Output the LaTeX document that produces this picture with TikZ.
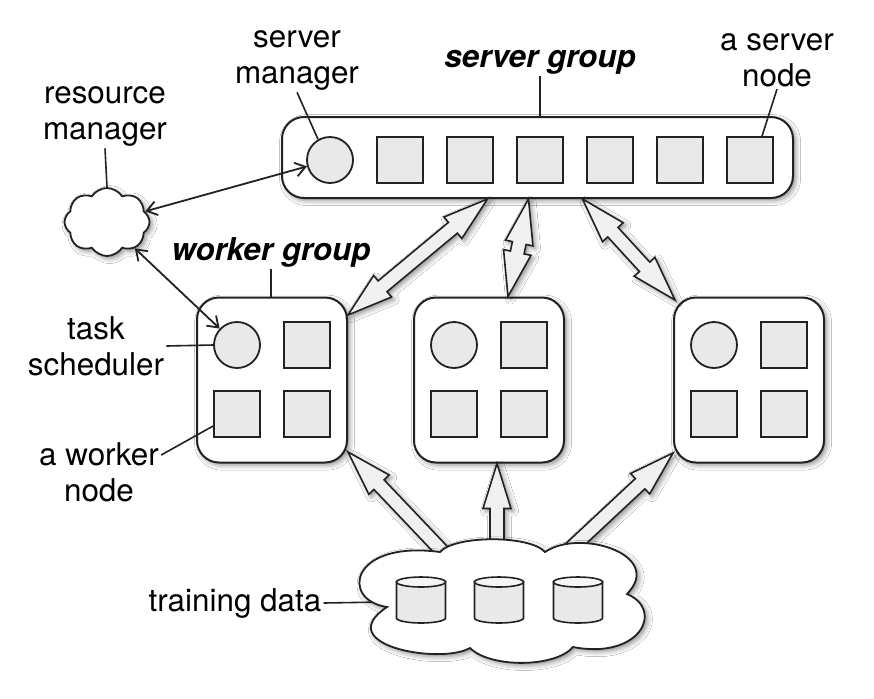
\documentclass[tikz,border=0pt]{standalone}
\usepackage{fontspec}
\setmainfont{TeX Gyre Heros}
\usetikzlibrary{shapes.symbols,shapes.geometric,calc,arrows.meta,shadows.blur}
\definecolor{boxfill}{HTML}{E9E9E9}
\definecolor{ink}{HTML}{222222}
\tikzset{
  txt/.style={font=\fontsize{15.7}{18}\selectfont, align=center, inner sep=1pt},
  grp/.style={font=\fontsize{15.7}{18}\selectfont\bfseries\itshape, inner sep=1pt},
  shd/.style={blur shadow={shadow xshift=1.3pt, shadow yshift=-1.3pt, shadow blur radius=2.5pt, shadow opacity=45}},
  gbox/.style={draw=ink, line width=1pt, rounded corners=11pt, fill=white, shd, inner sep=0pt},
  sq/.style={draw=ink, line width=0.9pt, fill=boxfill, minimum size=23pt, inner sep=0pt},
  ci/.style={circle, draw=ink, line width=0.9pt, fill=boxfill, minimum size=23pt, inner sep=0pt},
  cl/.style={cloud, draw=ink, line width=0.9pt, fill=white, shd, inner sep=0pt},
  cloudpath/.style={draw=ink, line width=0.9pt, fill=white, shd},
  cylbody/.style={draw=ink, line width=0.8pt, fill=boxfill},
  cyltop/.style={draw=ink, line width=0.8pt, fill=boxfill!45},
  leader/.style={draw=ink, line width=0.8pt},
  thinarr/.style={draw=ink, line width=0.9pt, arrows={Straight Barb[length=5pt,width=7pt]-Straight Barb[length=5pt,width=7pt]}},
  barrow/.style={draw=ink, line width=0.8pt, fill=black!6, line join=miter, shd},
}
\newcommand\dblarr[2]{%
  \path ($(#1)!22.5pt!(#2)$) coordinate (ta) ($(#2)!22.5pt!(#1)$) coordinate (tb);
  \draw[barrow] (#1) -- ($(ta)!7pt!90:(#2)$) -- ($(ta)!3.5pt!90:(#2)$) -- ($(tb)!3.5pt!-90:(#1)$) -- ($(tb)!7pt!-90:(#1)$) -- (#2)
    -- ($(tb)!7pt!90:(#1)$) -- ($(tb)!3.5pt!90:(#1)$) -- ($(ta)!3.5pt!-90:(#2)$) -- ($(ta)!7pt!-90:(#2)$) -- cycle;}
\newcommand\sglarr[2]{%
  \path ($(#2)!22.5pt!(#1)$) coordinate (tb);
  \draw[barrow] ($(#1)!3.5pt!90:(#2)$) -- ($(tb)!3.5pt!-90:(#1)$) -- ($(tb)!7pt!-90:(#1)$) -- (#2)
    -- ($(tb)!7pt!90:(#1)$) -- ($(tb)!3.5pt!90:(#1)$) -- ($(#1)!3.5pt!-90:(#2)$) -- cycle;}
\begin{document}
\begin{tikzpicture}[x=0.5pt,y=-0.5pt]
\fill[white] (0,0) rectangle (874,698);
\useasboundingbox (0,0) rectangle (874,698);

% labels
\node[txt] (smlabel) at (297,60) {server\\manager};
\node[grp] (sglabel) at (540,62) {server group};
\node[txt] (snlabel) at (777,60) {a server\\node};
\node[txt] (rmlabel) at (105,116) {resource\\manager};
\node[grp] (wglabel) at (271,252) {worker group};
\node[txt] (tslabel) at (96,346) {task\\scheduler};
\node[txt] (awlabel) at (99,472) {a worker\\node};
\node[txt] (tdlabel) at (235,603) {training data};

% server group
\node[gbox, minimum width=255.5pt, minimum height=40.5pt] (sg) at (537.5,157.5) {};
\node[ci] (sm) at (330,160) {};
\foreach \i in {1,...,6} { \node[sq] (s\i) at ({330+70*\i},160) {}; }

% resource manager
\node[cl, cloud puffs=8, cloud puff arc=115, aspect=1.25, minimum width=42.5pt, minimum height=34pt] (rm) at (107,222) {};

% worker groups
\foreach \n/\x in {1/272,2/489,3/749} {
  \node[gbox, minimum width=75pt, minimum height=82.5pt] (w\n) at (\x,380) {};
  \node[ci] (c\n) at (\x-35,345) {};
  \node[sq] (q\n a) at (\x+35,345) {};
  \node[sq] (q\n b) at (\x-35,414) {};
  \node[sq] (q\n c) at (\x+35,414) {};
}

% leaders
\draw[leader] (smlabel.south) -- (sm.120);
\draw[leader] (snlabel.south) -- ($(s6.north)+(12,0)$);
\draw[leader] (sglabel.south) -- (sglabel.south |- sg.north);
\draw[leader] (rmlabel.south) -- (rm.north);
\draw[leader] (wglabel.south) -- (wglabel.south |- w1.north);
\draw[leader] (tslabel.east) -- (c1.west);
\coordinate (awl) at ($(awlabel.east)+(0,-17)$);
\draw[leader] (awl) -- ($(q1b.west)+(0,12)$);

% thin arrows
\draw[thinarr] (rm) -- (sm);
\draw[thinarr] (rm) -- (c1);

% server <-> worker block arrows
\coordinate (a1s) at ($(sg.south)+(-50,0)$);
\coordinate (a1t) at ($(w1.east)+(0,-65)$);
\coordinate (a2s) at ($(sg.south)+(-9,0)$);
\coordinate (a2t) at ($(w2.north)+(19,0)$);
\coordinate (a3s) at ($(sg.south)+(45,0)$);
\coordinate (a3t) at ($(w3.west)+(2,-80)$);
\dblarr{a1s}{a1t}
\dblarr{a2s}{a2t}
\dblarr{a3s}{a3t}

% data arrows
\coordinate (dc) at (503,600);
\coordinate (d1t) at ($(w1.east)+(0,72)$);
\coordinate (d1s) at ($(dc)+(-60,-48)$);
\coordinate (d2t) at ($(w2.south)+(8,0)$);
\coordinate (d2s) at ($(dc)+(-6,-48)$);
\coordinate (d3t) at ($(w3.west)+(0,73)$);
\coordinate (d3s) at ($(dc)+(64,-48)$);
\sglarr{d1s}{d1t}
\sglarr{d2s}{d2t}
\sglarr{d3s}{d3t}

% training data cloud
\draw[leader] (tdlabel.east) -- (dc);
\path[cloudpath] (387,607) .. controls (340,600) and (350,540) .. (440,552)
  .. controls (455,535) and (530,535) .. (545,552)
  .. controls (580,528) and (665,555) .. (627,594)
  .. controls (665,610) and (640,660) .. (573,647)
  .. controls (555,668) and (490,668) .. (470,648)
  .. controls (440,665) and (330,645) .. cycle;
\foreach \k/\x in {1/421,2/499,3/578} {
  \path[cylbody] (\x-24.5,582) -- (\x-24.5,618)
     arc[start angle=180, end angle=360, x radius=12.25pt, y radius=2.5pt]
     -- (\x+24.5,582) -- cycle;
  \path[cyltop] (\x,582) ellipse [x radius=12.25pt, y radius=2.5pt];
  \coordinate (db\k) at (\x,600);
}
\end{tikzpicture}
\end{document}
